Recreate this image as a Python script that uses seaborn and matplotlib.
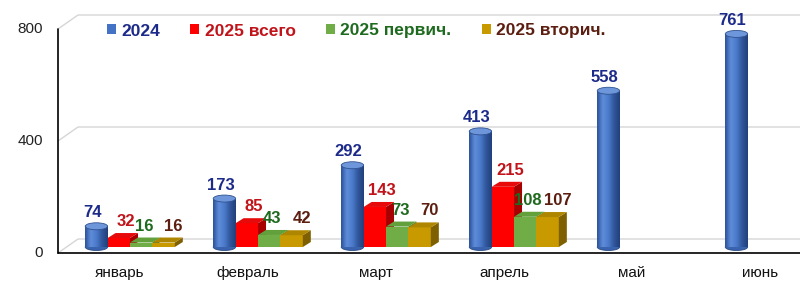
import numpy as np
import pandas as pd
import matplotlib
matplotlib.use("Agg")
import matplotlib.pyplot as plt
import seaborn as sns
from matplotlib.patches import Polygon, Ellipse, Rectangle
from matplotlib.lines import Line2D
from matplotlib.transforms import IdentityTransform
from matplotlib.colors import LinearSegmentedColormap

# ---------------- data ----------------
months = ["январь", "февраль", "март", "апрель", "май", "июнь"]
series = ["2024", "2025 всего", "2025 первич.", "2025 вторич."]
v2024 = [74, 173, 292, 413, 558, 761]
v2025_total = [32, 85, 143, 215]
v2025_primary = [16, 43, 73, 108]
v2025_secondary = [16, 42, 70, 107]
yticks = [0, 400, 800]

rows = []
for s, vals in zip(series, [v2024, v2025_total, v2025_primary, v2025_secondary]):
    for m, v in zip(months, vals):
        rows.append((m, s, v))
df = pd.DataFrame(rows, columns=["month", "series", "value"])

# ---------------- style ----------------
face = ["#4472C4", "#FF0000", "#70AD47", "#C89A00"]
tops = [None, "#E60A0A", "#62A03C", "#AE8600"]
sides = [None, "#A80000", "#4C7E2C", "#7E6000"]
label_colors = ["#1C2A8A", "#C0141A", "#1E6A1E", "#5C1E10"]
label_dx = [-4, 7, 3, 10]     # horizontal shift of value labels, px
label_dy = [6, 9, 9, 9]       # gap above bar top, px
PX = 72 / 100  # points per pixel

sns.set_theme(style="white")
plt.rcParams['font.family'] = ['Liberation Sans', 'DejaVu Sans']

fig = plt.figure(figsize=(8, 2.9), dpi=100)
fig.patch.set_facecolor("white")
H = 290
BASE, TOP = 247, 23
ax = fig.add_axes([58 / 800, (H - BASE) / H, 742 / 800, (BASE - TOP) / H])
sns.barplot(data=df, x="month", y="value", hue="series", order=months,
            hue_order=series, palette=face, width=0.7, dodge=True,
            saturation=1, errorbar=None, legend=False, ax=ax)
XLIM = (-0.5625, 5.234)
ax.set_xlim(*XLIM)
ax.set_ylim(0, 800)
ax.set_xlabel("")
ax.set_ylabel("")
ax.set_facecolor("none")
for sp in ax.spines.values():
    sp.set_visible(False)
ax.set_yticks([])
ax.set_xticks([])

tD = ax.transData
ident = IdentityTransform()
FRONT, BACK = 6, 8   # pixel offsets of the front and back walls


def add(artist):
    artist.set_clip_on(False)
    if isinstance(artist, Line2D):
        ax.add_line(artist)
    else:
        ax.add_patch(artist)


# back-wall gridlines with perspective slant
for v in yticks:
    px, py = tD.transform((XLIM[0], v))
    add(Line2D([px, px + 20, 800], [py - FRONT, py + BACK, py + BACK],
               color="#D6D6D6", lw=1.0, transform=ident, zorder=0.5))

# front axis lines
px0, py0 = tD.transform((XLIM[0], 0))
px8, py8 = tD.transform((XLIM[0], yticks[-1]))
add(Line2D([px0, px0], [py8 - FRONT, py0 - FRONT], color="black",
           lw=1.2, transform=ident, zorder=1))
add(Line2D([px0, 800], [py0 - FRONT, py0 - FRONT], color="black",
           lw=1.2, transform=ident, zorder=1))

# y tick labels (front wall)
for v in yticks:
    ax.annotate(str(v), (0, v), xycoords=("axes fraction", "data"),
                xytext=(-15 * PX, -FRONT * PX), textcoords="offset points",
                ha="right", va="center", fontsize=11, color="#222222",
                annotation_clip=False)

# month labels
for i, m in enumerate(months):
    ax.annotate(m, (i, 0), xycoords=("data", "axes fraction"),
                xytext=(-10 * PX, -26 * PX), textcoords="offset points",
                ha="center", va="center", fontsize=11, color="#111111",
                annotation_clip=False)

cyl_cmap = LinearSegmentedColormap.from_list(
    "cyl", ["#2C5298", "#5F8DDB", "#4C7ACB", "#30569C", "#21407A"])
grad = np.linspace(0, 1, 64).reshape(1, -1)

dx, dy = 8, 5
eh = 7
for k, cont in enumerate(ax.containers):
    zbase = 2 + k
    for rect in cont.patches:
        x0 = rect.get_x()
        w = rect.get_width()
        h = rect.get_height()
        if not np.isfinite(h):
            continue
        (X0, Y0) = tD.transform((x0, 0))
        (X1, Y1) = tD.transform((x0 + w, h))
        if k == 0:
            rect.set_visible(False)
            add(Ellipse(((X0 + X1) / 2, Y0), X1 - X0, eh,
                        facecolor="#3A63AD", edgecolor="#2A4A88",
                        lw=0.6, transform=ident, zorder=zbase))
            im = ax.imshow(grad, extent=(x0, x0 + w, 0, h), aspect="auto",
                           cmap=cyl_cmap, zorder=zbase + 0.1,
                           interpolation="bicubic")
            im.set_clip_path(Rectangle((x0, 0), w, h, transform=tD))
            add(Ellipse(((X0 + X1) / 2, Y1), X1 - X0, eh,
                        facecolor="#6E96DA", edgecolor="#2F528F",
                        lw=0.6, transform=ident, zorder=zbase + 0.2))
        else:
            rect.set_zorder(zbase)
            rect.set_edgecolor("none")
            add(Polygon([(X1, Y0), (X1, Y1), (X1 + dx, Y1 + dy), (X1 + dx, Y0 + dy)],
                        closed=True, facecolor=sides[k], edgecolor="none",
                        transform=ident, zorder=zbase + 0.1))
            add(Polygon([(X0, Y1), (X1, Y1), (X1 + dx, Y1 + dy), (X0 + dx, Y1 + dy)],
                        closed=True, facecolor=tops[k], edgecolor="none",
                        transform=ident, zorder=zbase + 0.1))

ax.set_xlim(*XLIM)
ax.set_ylim(0, 800)

# value labels
for k, cont in enumerate(ax.containers):
    off = (label_dx[k] * PX, label_dy[k] * PX)
    texts = ax.bar_label(cont, labels=[f"{int(r.get_height())}" for r in cont.patches],
                         padding=off[1], color=label_colors[k], fontsize=12,
                         fontweight="bold", family=['Liberation Sans', 'DejaVu Sans'],
                         zorder=20)
    for t in texts:
        t.xyann = off
        t.set_clip_on(False)

# legend
handles = [Rectangle((0, 0), 1, 1, facecolor=c, edgecolor="none") for c in face]
leg = fig.legend(handles, series, loc="center left",
                 bbox_to_anchor=(107 / 800, 1 - 31 / H),
                 bbox_transform=fig.transFigure, ncol=4, frameon=False,
                 prop={"weight": "bold", "size": 12.5}, handlelength=0.52,
                 handleheight=0.52, handletextpad=0.3, columnspacing=1.75,
                 borderpad=0, borderaxespad=0)
for t, c in zip(leg.get_texts(), label_colors):
    t.set_color(c)

fig.savefig("out.png", dpi=100)
